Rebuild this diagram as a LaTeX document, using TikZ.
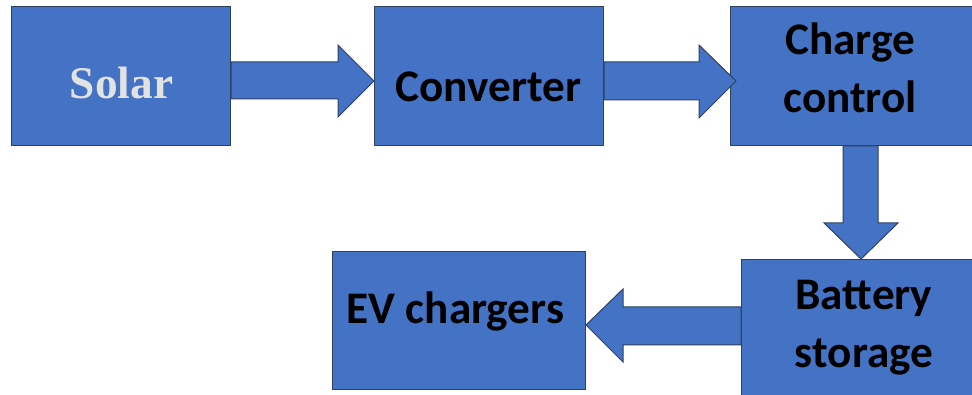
\documentclass[tikz,border=0pt]{standalone}
\usepackage{fontspec}
\setmainfont{Carlito}
\newfontfamily\solarfont{Liberation Serif}
\definecolor{boxblue}{RGB}{68,114,196}
\definecolor{edgeblue}{RGB}{47,64,96}
\definecolor{lightgrey}{RGB}{226,226,226}
\tikzset{every picture/.style={line width=0.75pt}}
\tikzset{
  block/.style={draw=edgeblue, fill=boxblue, anchor=north west, inner sep=0pt},
  barrow/.style={draw=edgeblue, fill=boxblue, line join=miter},
  lbl/.style={inner sep=0.75pt, font=\bfseries\fontsize{33.9}{43.5}\selectfont, align=center}
}
\begin{document}
\begin{tikzpicture}[x=0.75pt,y=0.75pt,yscale=-1,xscale=1]
        \useasboundingbox (0,0) rectangle (972,395);
        %Shape: Rectangle
        \node[block, minimum width=219*0.75pt, minimum height=139*0.75pt] (solar) at (11,6) {};
        %Shape: Rectangle
        \node[block, minimum width=229*0.75pt, minimum height=139*0.75pt] (conv) at (374,6) {};
        %Shape: Rectangle
        \node[block, minimum width=250*0.75pt, minimum height=139*0.75pt] (ctrl) at (730,6) {};
        %Shape: Rectangle
        \node[block, minimum width=253*0.75pt, minimum height=138*0.75pt] (ev) at (332,251) {};
        %Shape: Rectangle
        \node[block, minimum width=250*0.75pt, minimum height=150*0.75pt] (batt) at (741,259) {};
        % Text Node
        \node[lbl, anchor=base, text=lightgrey, font=\solarfont\bfseries\fontsize{34}{40}\selectfont] (solartxt) at (121.5,99) {Solar};
        % Text Node
        \node[lbl, anchor=base] (convtxt) at (488.5,101.7) {Converter};
        % Text Node
        \node[lbl, anchor=base] (ctrltxt) at (850,113) {Charge\\control};
        % Text Node
        \node[lbl, anchor=base] (batttxt) at (864,368) {Battery\\storage};
        % Text Node
        \node[lbl, anchor=base] (evtxt) at (455.5,324) {EV chargers};
        %Block Arrow: Solar to Converter
        \draw[barrow] (solar.east |- 0,62) -- (338,62) -- (338,45) -- (conv.west |- 0,81) -- (338,117) -- (338,99) -- (solar.east |- 0,99) -- cycle;
        %Block Arrow: Converter to Charge control
        \draw[barrow] (conv.east |- 0,62) -- (699,62) -- (699,45) -- (736,81) -- (699,118) -- (699,100) -- (conv.east |- 0,100) -- cycle;
        %Block Arrow: Charge control to Battery storage
        \draw[barrow] (843,0 |- ctrl.south) -- (843,223) -- (824,223) -- (861,0 |- batt.north) -- (898,223) -- (878,223) -- (878,0 |- ctrl.south) -- cycle;
        %Block Arrow: Battery storage to EV chargers
        \draw[barrow] (batt.west |- 0,307) -- (623,307) -- (623,289) -- (ev.east |- 0,325) -- (623,362) -- (623,345) -- (batt.west |- 0,345) -- cycle;
\end{tikzpicture}
\end{document}
